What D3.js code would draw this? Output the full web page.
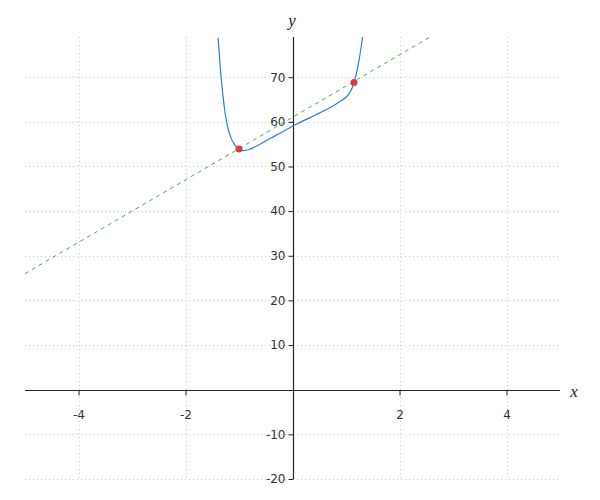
<!DOCTYPE html>
<html><head><meta charset="utf-8">
<script src="https://cdn.jsdelivr.net/npm/d3@7"></script>
<style>body{margin:0;background:#fff}</style>
</head><body><svg id="c" width="600" height="500"></svg>
<script>
// Data
const xTicks = [-4, -2, 2, 4];
const yTicks = [-20, -10, 10, 20, 30, 40, 50, 60, 70];
const gridX = [-4, -2, 2, 4];
const gridY = [-20, -10, 10, 20, 30, 40, 50, 60, 70];
const curveX = [-1.39, -1.35, -1.30, -1.25, -1.20, -1.15, -1.10, -1.05, -1.00, -0.95, -0.90, -0.85, -0.80, -0.70, -0.60, -0.50, -0.40, -0.30, -0.20, -0.10, 0.0, 0.1, 0.2, 0.3, 0.4, 0.5, 0.6, 0.7, 0.8, 0.9, 1.0, 1.05, 1.10, 1.15, 1.20, 1.25, 1.30, 1.32];
const curveY = [78.83, 72.09, 65.92, 61.25, 58.28, 56.41, 55.24, 54.37, 53.85, 53.58, 53.56, 53.69, 53.87, 54.43, 55.04, 55.70, 56.36, 57.02, 57.68, 58.34, 59.00, 59.61, 60.22, 60.78, 61.36, 61.95, 62.56, 63.17, 63.88, 64.64, 65.50, 66.13, 67.16, 68.79, 71.12, 74.25, 78.08, 79.71];
const lineX = [-5, 5];
const lineY = [26, 96];
const pointX = [-1.0, 1.15];
const pointY = [53.9, 68.8];

const svg = d3.select('#c');
const x = d3.scaleLinear().domain([-5, 5]).range([25, 560]);
const y = d3.scaleLinear().domain([-20, 79]).range([479, 37]);

svg.append('defs').append('clipPath').attr('id','clip')
  .append('rect').attr('x', 25).attr('y', 37).attr('width', 535).attr('height', 442);

const grid = svg.append('g').attr('stroke', '#c8c8c8').attr('stroke-width', 1).attr('stroke-dasharray', '1,3');
grid.selectAll('.gx').data(gridX).enter().append('line')
  .attr('x1', d => Math.round(x(d)) + 0.5).attr('x2', d => Math.round(x(d)) + 0.5)
  .attr('y1', y(79)).attr('y2', y(-20));
grid.selectAll('.gy').data(gridY).enter().append('line')
  .attr('y1', d => Math.round(y(d)) + 0.5).attr('y2', d => Math.round(y(d)) + 0.5)
  .attr('x1', x(-5)).attr('x2', x(5));

// axes
const fmt = d => String(d);
const xAxis = d3.axisBottom(x).tickValues(xTicks).tickSize(5).tickPadding(15).tickFormat(fmt);
const gx = svg.append('g').attr('transform', `translate(0,${Math.round(y(0)) + 0.5})`).call(xAxis);
const yAxis = d3.axisLeft(y).tickValues(yTicks).tickSize(5).tickPadding(3).tickFormat(fmt);
const gy = svg.append('g').attr('transform', `translate(${Math.round(x(0)) + 0.5},0)`).call(yAxis);
[gx, gy].forEach(g => {
  g.select('.domain').attr('stroke', '#222').attr('stroke-width', 1.2);
  g.selectAll('.tick line').attr('stroke', '#222');
  g.selectAll('.tick text').attr('fill', '#333').style('font-family', 'DejaVu Sans').style('font-size', '12px');
});
gx.select('.domain').attr('d', `M${x(-5)},0H${x(5)}`);
gy.select('.domain').attr('d', `M0,${y(79)}V${y(-20)}`);

svg.append('text').attr('x', 574).attr('y', 397).text('x')
  .style('font-family', 'Liberation Serif').style('font-style', 'italic').style('font-size', '17px').attr('fill', '#222').attr('text-anchor', 'middle');
svg.append('text').attr('x', 292).attr('y', 26).text('y')
  .style('font-family', 'Liberation Serif').style('font-style', 'italic').style('font-size', '17px').attr('fill', '#222').attr('text-anchor', 'middle');

const plot = svg.append('g').attr('clip-path', 'url(#clip)');
const lineGen = d3.line().x(d => x(d[0])).y(d => y(d[1]));
plot.append('path').datum(lineX.map((v, i) => [v, lineY[i]]))
  .attr('d', lineGen).attr('fill', 'none').attr('stroke', '#4caf50').attr('stroke-width', 1).attr('stroke-dasharray', '4,4');
plot.append('path').datum(curveX.map((v, i) => [v, curveY[i]]))
  .attr('d', lineGen.curve(d3.curveMonotoneX)).attr('fill', 'none').attr('stroke', '#3a7cc4').attr('stroke-width', 1.2);
svg.selectAll('.pt').data(pointX.map((v, i) => [v, pointY[i]])).enter().append('circle')
  .attr('cx', d => x(d[0])).attr('cy', d => y(d[1])).attr('r', 3.5).attr('fill', '#d43d3d');
</script></body></html>
